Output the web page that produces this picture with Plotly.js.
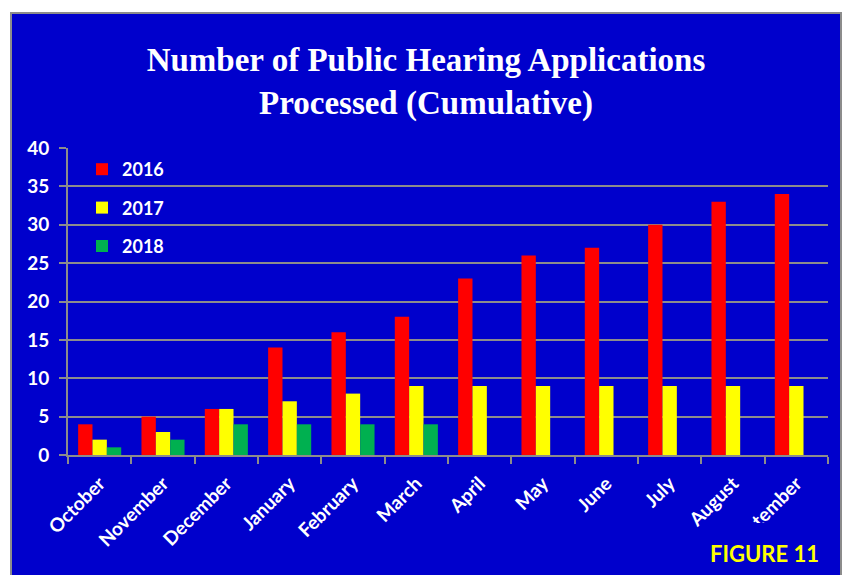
<!DOCTYPE html>
<html>
<head>
<meta charset="utf-8">
<script src="https://cdn.plot.ly/plotly-3.0.1.min.js"></script>
<style>
  html, body { margin: 0; padding: 0; background: #ffffff; width: 846px; height: 575px; overflow: hidden; }
  #chart { position: absolute; left: 10px; top: 12px; width: 832px; height: 563px;
           border-left: 2px solid #8c8c8c; border-top: 2px solid #8c8c8c; border-right: 2px solid #8c8c8c; box-sizing: border-box; }
</style>
</head>
<body>
<div id="chart"></div>
<script>
const months = ["October","November","December","January","February","March","April","May","June","July","August","September"];
const y2016 = [4, 5, 6, 14, 16, 18, 23, 26, 27, 30, 33, 34];
const y2017 = [2, 3, 6, 7, 8, 9, 9, 9, 9, 9, 9, 9];
const y2018 = [1, 2, 4, 4, 4, 4, null, null, null, null, null, null];
const seriesNames = ["2016", "2017", "2018"];
const seriesColors = ["#ff0000", "#ffff00", "#00b050"];
const yTicks = [0, 5, 10, 15, 20, 25, 30, 35, 40];

const W = 832, H = 563;
const M = { l: 56, r: 12, t: 134, b: 120 };
const pw = W - 4 - M.l - M.r;
const ph = H - 2 - M.t - M.b;
function px2paperX(x) { return (x - 12 - M.l) / pw; }
function px2paperY(y) { return 1 - (y - 14 - M.t) / ph; }

const allY = [y2016, y2017, y2018];
const traces = allY.map((vals, i) => ({
  type: 'bar',
  x: months,
  y: vals,
  name: seriesNames[i],
  legendgroup: seriesNames[i],
  marker: { color: seriesColors[i], line: { width: 0 } },
  hoverinfo: 'x+y+name'
}));

const fontSans = 'Lato, "Open Sans", sans-serif';

const layout = {
  width: W - 4,
  height: H - 2,
  margin: M,
  paper_bgcolor: '#0000cc',
  plot_bgcolor: '#0000cc',
  barmode: 'group',
  bargap: 0.32,
  bargroupgap: 0,
  title: {
    text: 'Number of Public Hearing Applications<br>Processed (Cumulative)',
    font: { family: '"Liberation Serif", "DejaVu Serif", serif', size: 33, color: '#ffffff', weight: 'bold' },
    x: 0.5, xanchor: 'center',
    xref: 'container',
    yref: 'container', y: 1 - 57 / (H - 2), yanchor: 'middle'
  },
  showlegend: true,
  legend: {
    x: px2paperX(82), xanchor: 'left',
    y: px2paperY(151), yanchor: 'top',
    bgcolor: 'rgba(0,0,0,0)',
    font: { family: fontSans, size: 18, color: '#ffffff', weight: 'bold' },
    traceorder: 'grouped',
    tracegroupgap: 12,
    itemclick: false
  },
  xaxis: {
    type: 'category',
    tickangle: -45,
    tickfont: { family: fontSans, size: 19, color: '#ffffff', weight: 'bold' },
    ticklabelstandoff: 8,
    showline: true, linecolor: '#8c8c8c', linewidth: 2,
    ticks: 'outside', tickson: 'boundaries', ticklen: 7, tickcolor: '#8c8c8c', tickwidth: 2,
    showgrid: false,
    fixedrange: true
  },
  yaxis: {
    range: [0, 40],
    tickvals: yTicks,
    ticktext: yTicks.map(String),
    tickfont: { family: fontSans, size: 19, color: '#ffffff', weight: 'bold' },
    ticklabelstandoff: 6,
    showline: true, linecolor: '#8c8c8c', linewidth: 2,
    ticks: 'outside', ticklen: 7, tickcolor: '#8c8c8c', tickwidth: 2,
    showgrid: true, gridcolor: '#8c8c8c', gridwidth: 2,
    zeroline: false,
    fixedrange: true
  },
  shapes: [{
    type: 'rect', xref: 'paper', yref: 'paper', layer: 'above',
    x0: px2paperX(712), x1: px2paperX(842),
    y0: px2paperY(576), y1: px2paperY(523),
    fillcolor: '#0000cc', line: { width: 0 }
  }],
  annotations: [{
    text: 'FIGURE 11',
    xref: 'paper', yref: 'paper',
    x: px2paperX(764), y: px2paperY(553),
    xanchor: 'center', yanchor: 'middle',
    showarrow: false,
    font: { family: fontSans, size: 22, color: '#ffff00', weight: 'bold' }
  }]
};

Plotly.newPlot('chart', traces, layout, { displayModeBar: false, staticPlot: true });
</script>
</body>
</html>
